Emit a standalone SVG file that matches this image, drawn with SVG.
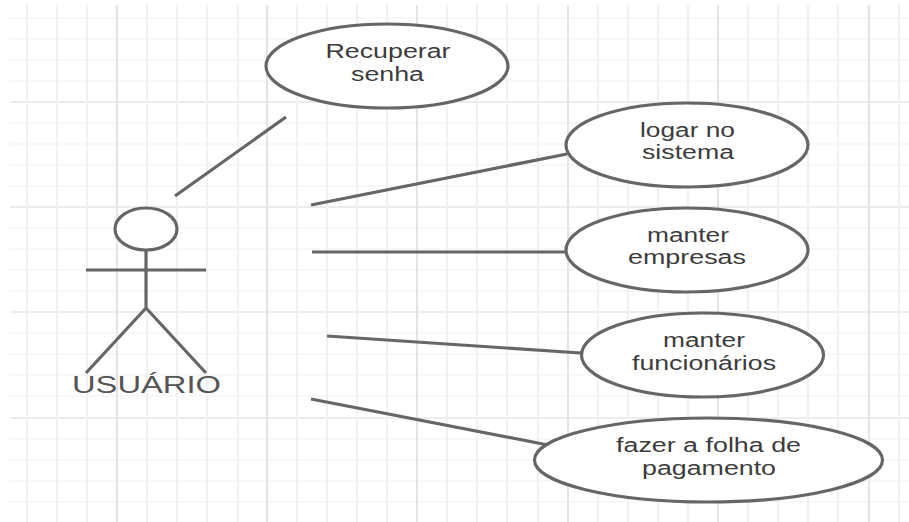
<svg xmlns="http://www.w3.org/2000/svg" width="909" height="522" viewBox="0 0 909 522">
<style>
.g{stroke:#f2f2f2;stroke-width:1.2;fill:none}
.v{stroke:#f1f1f1;stroke-width:2;fill:none}
.m{stroke:#e8e8e8;stroke-width:1.5;fill:none}
.n{stroke:#e4e4e4;stroke-width:2;fill:none}
.s{stroke:#666;stroke-width:3.200;fill:none}
.e{stroke:#666;stroke-width:3.200;fill:#fff}
text{font-family:"Liberation Sans",Arial,sans-serif;fill:#3c3c3c;text-anchor:middle;font-size:20px}
</style>
<rect width="909" height="522" fill="#fff"/>
<g id="grid">
<path class="g" d="M10 18H909M10 39H909M10 60H909M10 81H909M10 123H909M10 144H909M10 165H909M10 186H909M10 228H909M10 249H909M10 270H909M10 291H909M10 333H909M10 354H909M10 375H909M10 396H909M10 439H909M10 460H909M10 481H909M10 502H909"/>
<path class="m" d="M10 102H909M10 207H909M10 312H909M10 418H909"/>
<path class="v" d="M27 5V522M57 5V522M87 5V522M147 5V522M177 5V522M207 5V522M238 5V522M297 5V522M327 5V522M357 5V522M387 5V522M447 5V522M477 5V522M507 5V522M538 5V522M598 5V522M628 5V522M658 5V522M688 5V522M748 5V522M778 5V522M808 5V522M838 5V522M899 5V522"/>
<path class="n" d="M117 5V522M267 5V522M417 5V522M568 5V522M718 5V522M869 5V522"/>
</g>
<g id="connectors">
<path class="s" d="M175 196L286 117"/>
<path class="s" d="M311 205L567 154"/>
<path class="s" d="M312 252L567 252"/>
<path class="s" d="M327 336L581 353"/>
<path class="s" d="M311 399L548 445"/>
</g>
<g id="usuario">
<ellipse class="e" cx="146" cy="229" rx="31" ry="21"/>
<path class="s" d="M146 250V308M86 270H206M146 308L86 373M146 308L206 373"/>
<text x="146.500" y="393" textLength="149" lengthAdjust="spacingAndGlyphs" style="font-size:23px;fill:#555">USUÁRIO</text>
</g>
<g id="recuperar">
<ellipse class="e" cx="387" cy="66" rx="121" ry="42"/>
<text x="388" y="58" textLength="125" lengthAdjust="spacingAndGlyphs">Recuperar</text>
<text x="387.500" y="81" textLength="73" lengthAdjust="spacingAndGlyphs">senha</text>
</g>
<g id="logar">
<ellipse class="e" cx="687" cy="145" rx="121" ry="42"/>
<text x="687.500" y="137" textLength="95" lengthAdjust="spacingAndGlyphs">logar no</text>
<text x="688" y="159" textLength="92" lengthAdjust="spacingAndGlyphs">sistema</text>
</g>
<g id="empresas">
<ellipse class="e" cx="687" cy="250" rx="121" ry="42"/>
<text x="688" y="242" textLength="82" lengthAdjust="spacingAndGlyphs">manter</text>
<text x="687" y="264" textLength="118" lengthAdjust="spacingAndGlyphs">empresas</text>
</g>
<g id="funcionarios">
<ellipse class="e" cx="702.500" cy="355" rx="121" ry="42"/>
<text x="704" y="347" textLength="82" lengthAdjust="spacingAndGlyphs">manter</text>
<text x="704" y="370" textLength="144" lengthAdjust="spacingAndGlyphs">funcionários</text>
</g>
<g id="folha">
<ellipse class="e" cx="708.500" cy="460" rx="174" ry="42"/>
<text x="708.500" y="452" textLength="185" lengthAdjust="spacingAndGlyphs">fazer a folha de</text>
<text x="709" y="475" textLength="134" lengthAdjust="spacingAndGlyphs">pagamento</text>
</g>
</svg>
